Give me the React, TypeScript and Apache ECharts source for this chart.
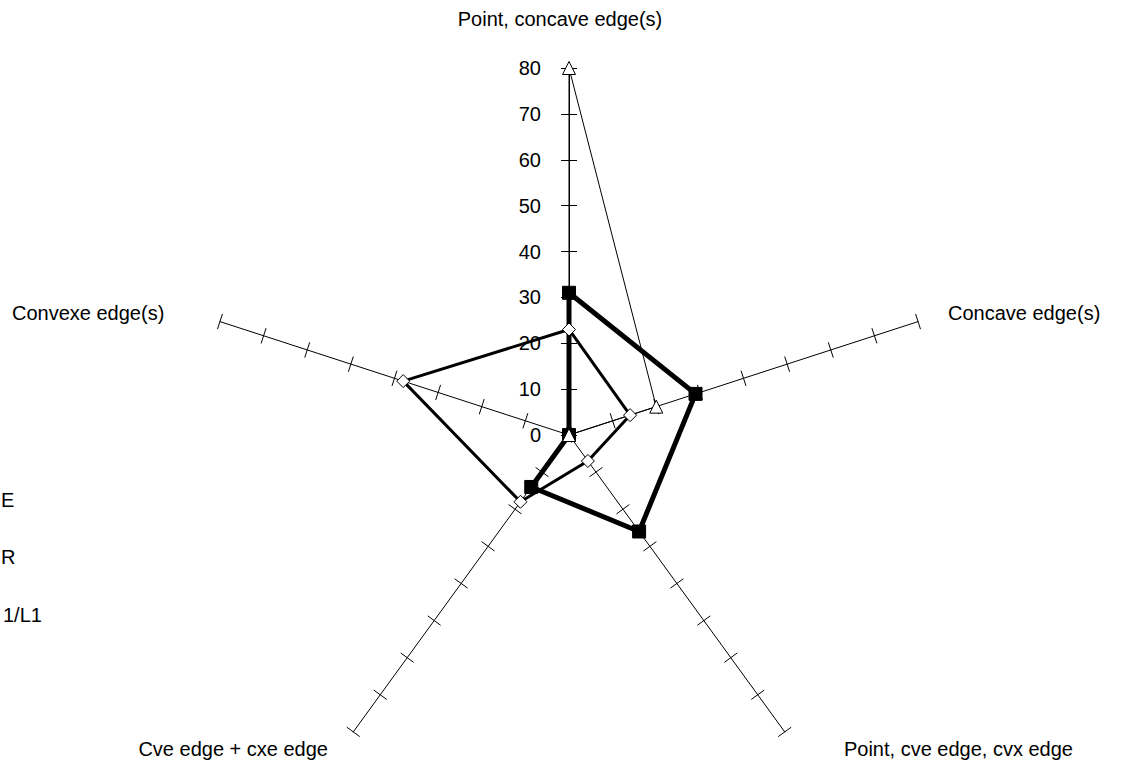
import React, { useEffect, useRef } from "react";
import * as echarts from "echarts";

// Indicators in counter-clockwise order starting at the top
const indicatorNames = [
  "Point, concave edge(s)",
  "Convexe edge(s)",
  "Cve edge + cxe edge",
  "Point, cve edge, cvx edge",
  "Concave edge(s)",
];
const axisMax = 80;
const axisSplits = 8;

const seriesNames = ["E", "R", "1/L1"];
const squareValues = [31, 0, 14, 26, 29];
const diamondValues = [23, 38, 18, 7, 14];
const triangleValues = [80, 0, 0, 0, 20];

const FONT = "'Liberation Sans', Arial, sans-serif";

export default function App() {
  const ref = useRef<HTMLDivElement>(null);
  useEffect(() => {
    if (!ref.current) return;
    const chart = echarts.init(ref.current, null, { renderer: "svg" });
    const indicator = indicatorNames.map((name, i) => ({
      name,
      min: 0,
      max: axisMax,
      ...(i === 0 ? { axisLabel: { show: true } } : {}),
    }));
    const center = [569, 435];
    const radius = 367;
    const option: any = {
      animation: false,
      backgroundColor: "#fff",
      radar: [
        {
          center,
          radius,
          startAngle: 90,
          shape: "polygon",
          splitNumber: axisSplits,
          indicator,
          axisName: { show: false },
          axisLine: { show: true, lineStyle: { color: "#000", width: 1 } },
          axisTick: { show: true, length: 8, lineStyle: { color: "#000", width: 1 } },
          axisLabel: {
            show: false,
            color: "#000",
            fontSize: 20,
            fontFamily: FONT,
            margin: 28,
          },
          splitLine: { show: false },
          splitArea: { show: false },
        },
        {
          center,
          radius,
          startAngle: 90,
          shape: "polygon",
          splitNumber: axisSplits,
          indicator: indicatorNames.map((name) => ({ name, min: 0, max: axisMax })),
          axisName: { show: false },
          axisLine: { show: false },
          axisTick: { show: true, length: -8, lineStyle: { color: "#000", width: 1 } },
          axisLabel: { show: false },
          splitLine: { show: false },
          splitArea: { show: false },
        },
      ],
      series: [
        {
          type: "radar",
          radarIndex: 0,
          data: [
            {
              name: seriesNames[0],
              value: squareValues,
              symbol: "rect",
              symbolSize: 13,
              lineStyle: { color: "#000", width: 5 },
              itemStyle: { color: "#000", borderColor: "#000", borderWidth: 1 },
            },
            {
              name: seriesNames[1],
              value: diamondValues,
              symbol: "diamond",
              symbolSize: 13,
              lineStyle: { color: "#000", width: 3 },
              itemStyle: { color: "#fff", borderColor: "#000", borderWidth: 1 },
            },
            {
              name: seriesNames[2],
              value: triangleValues,
              symbol: "triangle",
              symbolSize: 13,
              lineStyle: { color: "#000", width: 1 },
              itemStyle: { color: "#fff", borderColor: "#000", borderWidth: 1 },
            },
          ],
        },
      ],
      graphic: [
        { type: "text", x: 560, y: 19, style: { text: indicatorNames[0], fill: "#000", font: `20px ${FONT}`, align: "center", verticalAlign: "middle" } },
        { type: "text", x: 12, y: 313, style: { text: indicatorNames[1], fill: "#000", font: `20px ${FONT}`, align: "left", verticalAlign: "middle" } },
        { type: "text", x: 328, y: 749, style: { text: indicatorNames[2], fill: "#000", font: `20px ${FONT}`, align: "right", verticalAlign: "middle" } },
        { type: "text", x: 1073, y: 749, style: { text: indicatorNames[3], fill: "#000", font: `20px ${FONT}`, align: "right", verticalAlign: "middle" } },
        { type: "text", x: 948, y: 313, style: { text: indicatorNames[4], fill: "#000", font: `20px ${FONT}`, align: "left", verticalAlign: "middle" } },
        { type: "text", x: 1, y: 500, style: { text: seriesNames[0], fill: "#000", font: `20px ${FONT}`, align: "left", verticalAlign: "middle" } },
        { type: "text", x: 1, y: 557, style: { text: seriesNames[1], fill: "#000", font: `20px ${FONT}`, align: "left", verticalAlign: "middle" } },
        { type: "text", x: 3, y: 615, style: { text: seriesNames[2], fill: "#000", font: `20px ${FONT}`, align: "left", verticalAlign: "middle" } },
      ],
    };
    chart.setOption(option);
    return () => chart.dispose();
  }, []);
  return (
    <div
      ref={ref}
      style={{ position: "absolute", left: 0, top: 0, width: 1133, height: 768 }}
    />
  );
}
